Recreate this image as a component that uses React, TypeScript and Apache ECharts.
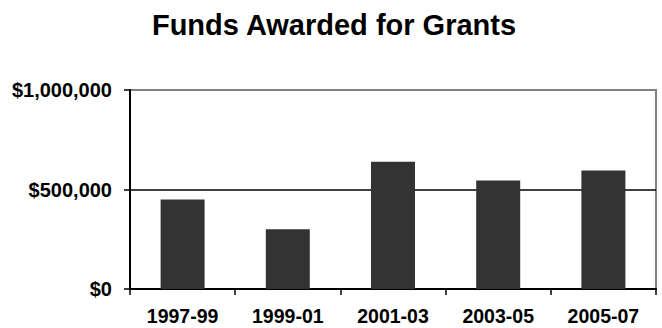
import React, { useEffect, useRef } from "react";
import * as echarts from "echarts";

const categories = ["1997-99", "1999-01", "2001-03", "2003-05", "2005-07"];
const funds = [450000, 300000, 640000, 545000, 595000];
const yTicks = [0, 500000, 1000000];

const FONT = "'Liberation Sans', Arial, sans-serif";

export default function App() {
  const ref = useRef<HTMLDivElement>(null);
  useEffect(() => {
    if (!ref.current) return;
    const chart = echarts.init(ref.current, null, { renderer: "svg" });
    chart.setOption({
      animation: false,
      backgroundColor: "#ffffff",
      title: {
        text: "Funds Awarded for Grants",
        left: 329,
        textAlign: "center",
        top: 5,
        textStyle: { fontFamily: FONT, fontWeight: "bold", fontSize: 29, color: "#000" },
      },
      grid: {
        left: 130,
        right: 6,
        top: 90,
        bottom: 39,
        show: true,
        borderColor: "#808080",
        borderWidth: 2,
        backgroundColor: "transparent",
      },
      xAxis: {
        type: "category",
        data: categories,
        axisLine: { show: true, lineStyle: { color: "#000", width: 2 } },
        axisTick: { show: true, inside: false, length: 6, lineStyle: { color: "#000", width: 1.5 } },
        axisLabel: { margin: 17, fontFamily: FONT, fontWeight: "bold", fontSize: 19.5, color: "#000" },
      },
      yAxis: {
        type: "value",
        min: yTicks[0],
        max: yTicks[yTicks.length - 1],
        interval: yTicks[1] - yTicks[0],
        axisLine: { show: true, lineStyle: { color: "#000", width: 2 } },
        axisTick: { show: true, inside: false, length: 6, lineStyle: { color: "#000", width: 1.5 } },
        splitLine: { show: true, lineStyle: { color: ["#000", "#000", "#808080"], width: 1.5 } },
        axisLabel: {
          margin: 18,
          fontFamily: FONT,
          fontWeight: "bold",
          fontSize: 20,
          color: "#000",
          formatter: (v: number) => "$" + v.toLocaleString("en-US"),
        },
      },
      series: [
        {
          type: "bar",
          data: funds,
          barWidth: 44,
          itemStyle: { color: "#333333" },
        },
      ],
    });
    return () => chart.dispose();
  }, []);
  return (
    <div
      ref={ref}
      style={{ position: "fixed", left: 0, top: 0, width: 662, height: 328, background: "#fff" }}
    />
  );
}
